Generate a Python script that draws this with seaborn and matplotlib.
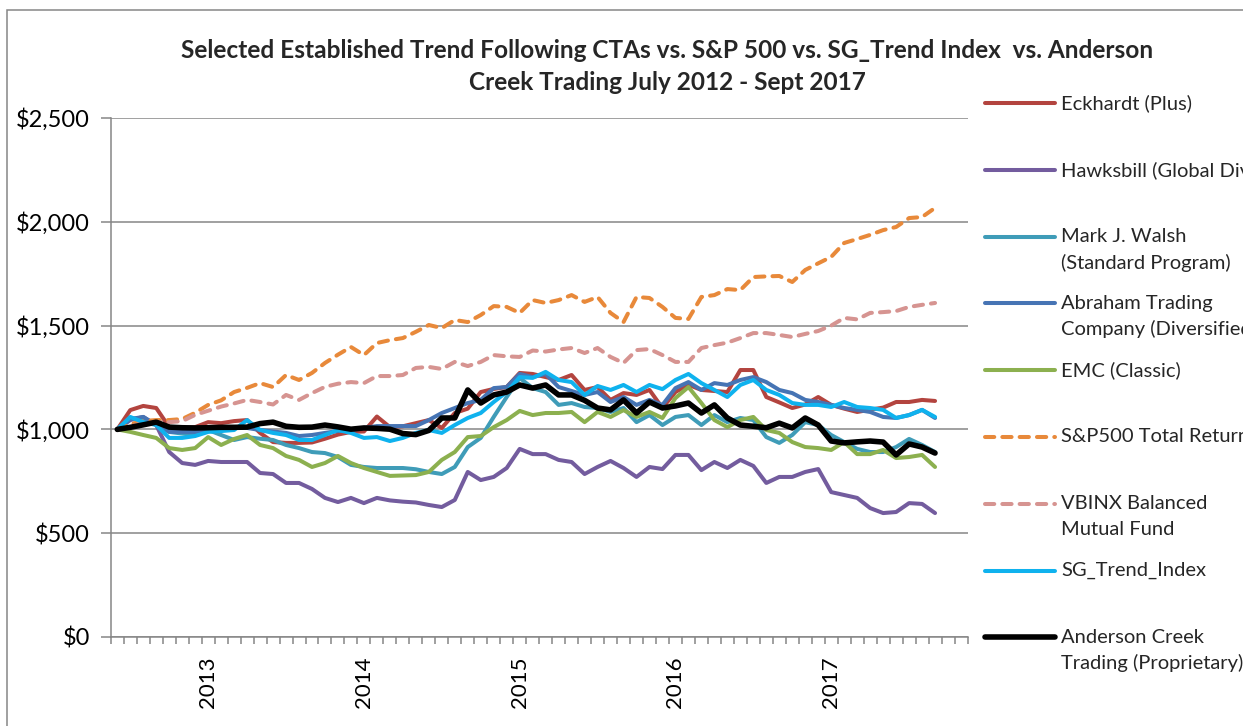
import matplotlib
matplotlib.use('Agg')
import matplotlib.pyplot as plt
from matplotlib.lines import Line2D
from matplotlib.patches import Rectangle
import seaborn as sns
import pandas as pd
import numpy as np

sns.set_theme(style="white")
plt.rcParams['font.family'] = ['Lato', 'DejaVu Sans']

# ---------------------------------------------------------------
# Monthly growth of $1,000, June 2012 (start) .. Sept 2017
# ---------------------------------------------------------------
months = np.arange(64)
year_pos = [7, 19, 31, 43, 55]
year_labels = ['2013', '2014', '2015', '2016', '2017']

eckhardt = [1000, 1093, 1113, 1103, 1011, 1005, 1011, 1035, 1030, 1040, 1045, 983, 939, 935, 935, 937,
            955, 975, 988, 990, 1062, 1011, 1015, 1030, 1045, 1007, 1079, 1100, 1180, 1195, 1204, 1272,
            1267, 1252, 1238, 1262, 1190, 1204, 1142, 1175, 1166, 1190, 1103, 1180, 1215, 1190, 1185, 1180,
            1286, 1286, 1156, 1130, 1103, 1120, 1156, 1118, 1100, 1084, 1095, 1105, 1132, 1132, 1142, 1137]
hawksbill = [1000, 1045, 1060, 1021, 891, 838, 829, 848, 843, 843, 843, 790, 785, 742, 742, 713,
             670, 650, 670, 645, 670, 658, 652, 648, 636, 626, 660, 795, 756, 771, 814, 906,
             881, 881, 853, 843, 785, 819, 848, 814, 771, 819, 809, 877, 877, 804, 843, 814,
             853, 824, 742, 771, 771, 795, 809, 698, 684, 670, 621, 597, 602, 645, 641, 597]
walsh = [1000, 1055, 1045, 1030, 988, 980, 973, 997, 973, 949, 963, 955, 949, 925, 910, 891,
         886, 867, 829, 819, 814, 814, 814, 808, 795, 785, 819, 915, 959, 1060, 1156, 1248,
         1199, 1180, 1118, 1127, 1108, 1103, 1084, 1103, 1035, 1069, 1021, 1060, 1069, 1021, 1069, 1035,
         1055, 1045, 963, 935, 973, 1035, 1021, 973, 939, 906, 891, 891, 915, 954, 925, 891]
abraham = [1000, 1050, 1060, 1021, 988, 988, 988, 1002, 1005, 1007, 1007, 997, 990, 983, 968, 973,
           983, 992, 997, 1007, 1016, 1016, 1016, 1016, 1045, 1079, 1103, 1127, 1142, 1199, 1204, 1267,
           1252, 1267, 1204, 1185, 1166, 1180, 1132, 1156, 1118, 1142, 1118, 1199, 1228, 1190, 1223, 1214,
           1238, 1252, 1228, 1190, 1175, 1142, 1132, 1118, 1103, 1094, 1084, 1060, 1055, 1069, 1094, 1055]
emc = [1000, 988, 973, 959, 910, 901, 910, 963, 925, 954, 973, 925, 910, 872, 853, 819,
       838, 872, 838, 814, 795, 776, 778, 780, 795, 853, 891, 963, 968, 1011, 1045, 1089,
       1069, 1079, 1079, 1084, 1035, 1084, 1060, 1093, 1060, 1084, 1055, 1151, 1204, 1127, 1045, 1011,
       1045, 1060, 997, 983, 939, 915, 910, 901, 939, 881, 881, 901, 862, 867, 877, 819]
sp500 = [1000, 1025, 1040, 1045, 1045, 1050, 1080, 1118, 1140, 1180, 1200, 1223, 1204, 1262, 1238, 1272,
         1320, 1360, 1397, 1358, 1416, 1430, 1440, 1470, 1503, 1488, 1527, 1517, 1551, 1594, 1590, 1561,
         1623, 1609, 1623, 1647, 1614, 1638, 1561, 1517, 1638, 1633, 1590, 1537, 1532, 1638, 1647, 1676,
         1671, 1734, 1737, 1739, 1710, 1768, 1800, 1831, 1898, 1917, 1937, 1960, 1975, 2018, 2023, 2067]
vbinx = [1000, 1015, 1030, 1035, 1035, 1040, 1070, 1090, 1110, 1125, 1142, 1132, 1120, 1166, 1142, 1175,
         1205, 1220, 1228, 1223, 1257, 1257, 1262, 1296, 1301, 1291, 1325, 1305, 1325, 1358, 1352, 1349,
         1380, 1375, 1385, 1392, 1368, 1392, 1349, 1320, 1382, 1387, 1358, 1325, 1325, 1392, 1406, 1418,
         1440, 1464, 1464, 1455, 1445, 1460, 1474, 1500, 1537, 1530, 1561, 1565, 1570, 1590, 1600, 1609]
sg_trend = [1000, 1060, 1035, 1021, 959, 959, 968, 988, 992, 997, 1045, 997, 983, 973, 949, 949,
            973, 997, 983, 959, 963, 944, 959, 983, 997, 983, 1021, 1055, 1079, 1132, 1180, 1252,
            1248, 1277, 1238, 1228, 1166, 1209, 1190, 1214, 1180, 1214, 1194, 1238, 1267, 1223, 1190, 1156,
            1214, 1238, 1190, 1166, 1127, 1118, 1118, 1108, 1132, 1108, 1103, 1094, 1055, 1069, 1094, 1060]
anderson = [1000, 1010, 1022, 1035, 1011, 1008, 1007, 1008, 1010, 1010, 1011, 1028, 1035, 1015, 1010, 1011,
            1021, 1012, 1001, 1007, 1005, 1001, 980, 975, 995, 1055, 1055, 1190, 1127, 1166, 1180, 1214,
            1199, 1214, 1166, 1166, 1140, 1103, 1094, 1142, 1079, 1132, 1103, 1113, 1127, 1079, 1118, 1055,
            1021, 1015, 1008, 1030, 1007, 1055, 1021, 944, 935, 940, 944, 939, 877, 930, 915, 886]

names = ['Eckhardt (Plus)', 'Hawksbill (Global Diversified)', 'Mark J. Walsh\n(Standard Program)',
         'Abraham Trading\nCompany (Diversified)', 'EMC (Classic)', 'S&P500 Total Return',
         'VBINX Balanced\nMutual Fund', 'SG_Trend_Index', 'Anderson Creek\nTrading (Proprietary)']
values = [eckhardt, hawksbill, walsh, abraham, emc, sp500, vbinx, sg_trend, anderson]
colors = ['#B3443F', '#735C9E', '#3F9CB8', '#4674B4', '#8CB04F', '#E8893A', '#D69491', '#0FB2EE', '#000000']
dashed = [False, False, False, False, False, True, True, False, False]
widths = [2.9, 2.9, 2.9, 2.9, 2.9, 2.9, 2.9, 2.9, 4.0]

W, H = 1243, 726


def px(x, y):
    return x / W, 1 - y / H


fig = plt.figure(figsize=(W / 100, H / 100), dpi=100)
ax_l, ax_t = px(110.8, 118)
ax_r, ax_b = px(967.5, 637)
ax = fig.add_axes([ax_l, ax_b, ax_r - ax_l, ax_t - ax_b])

grey = '#868686'
dash_pat = (0, (2.3, 2.0))

for name, vals, col, dsh, lw in zip(names, values, colors, dashed, widths):
    df = pd.DataFrame({'month': months, 'value': vals})
    kw = dict(linestyle=dash_pat, dash_capstyle='round') if dsh else dict(solid_capstyle='round')
    sns.lineplot(data=df, x='month', y='value', ax=ax, color=col, lw=lw,
                 solid_joinstyle='round', legend=False, **kw)

ax.set_xlim(-0.5, 65.5)
ax.set_ylim(0, 2500)
ax.set_yticks(range(0, 2501, 500))
ax.set_yticklabels([f'${v:,}' for v in range(0, 2501, 500)])
ax.set_xticks(year_pos)
ax.set_xticklabels(year_labels, rotation=90)
ax.set_xticks(np.arange(-0.5, 66, 1), minor=True)
ax.set_xlabel('')
ax.set_ylabel('')

ax.yaxis.grid(True, color=grey, lw=1.1)
ax.set_axisbelow(True)
for s in ['top', 'right']:
    ax.spines[s].set_visible(False)
for s in ['left', 'bottom']:
    ax.spines[s].set_color(grey)
    ax.spines[s].set_linewidth(1.1)

ax.tick_params(axis='y', direction='out', length=7, width=1.1, color=grey, labelsize=17,
               labelcolor='black', pad=8, left=True)
ax.tick_params(axis='x', which='major', length=0, labelsize=16, labelcolor='black', pad=14)
ax.tick_params(axis='x', which='minor', direction='out', length=5, width=1.1, color=grey, bottom=True)

# title
fig.text(*px(667, 50), 'Selected Established Trend Following CTAs vs. S&P 500 vs. SG_Trend Index  vs. Anderson',
         ha='center', va='center', fontsize=17.6, fontweight='bold')
fig.text(*px(667, 83), 'Creek Trading July 2012 - Sept 2017',
         ha='center', va='center', fontsize=17.6, fontweight='bold')

# legend (Excel style: handle aligned with first text line)
for k, (name, col, dsh, lw) in enumerate(zip(names, colors, dashed, widths)):
    y = 103 + 66.8 * k
    x0, y0 = px(985, y)
    x1, _ = px(1055, y)
    kw = dict(linestyle=dash_pat, dash_capstyle='round') if dsh else dict(solid_capstyle='round')
    fig.add_artist(Line2D([x0, x1], [y0, y0], transform=fig.transFigure, color=col, lw=lw, **kw))
    for j, line in enumerate(name.split('\n')):
        fig.text(*px(1061, y + 26 * j), line, ha='left', va='center', fontsize=14.5)

# chart frame
fx, fy = px(7, 800)
fig.add_artist(Rectangle((fx, fy), 2, (800 - 10) / H, transform=fig.transFigure,
                         fill=False, ec=grey, lw=1.1))

fig.savefig('out.png', dpi=100)
